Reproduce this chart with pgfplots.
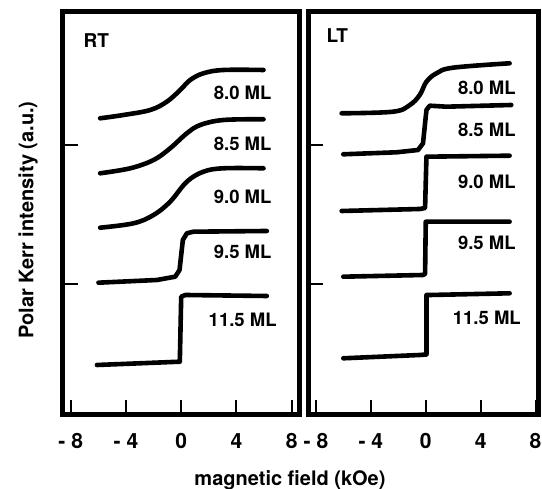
\documentclass[border=0pt]{standalone}
\usepackage{fontspec}
\setmainfont{TeX Gyre Heros}
\usepackage{pgfplots}
\pgfplotsset{compat=1.18}
\tikzset{lab/.style={font=\fontsize{18.5}{20}\selectfont\bfseries}}
\begin{document}
\begin{tikzpicture}
\useasboundingbox (0pt,0pt) rectangle (542pt,489pt);
\pgfplotsset{
  kerr/.style={
    scale only axis, height=403pt,
    ymin=0, ymax=403,
    ytick={131,269.5}, yticklabels={},
    ytick pos=left, xtick pos=bottom,
    tick align=inside, major tick length=15pt,
    tick style={line width=2pt, black},
    axis line style={line width=5pt},
    xtick={-8,-4,0,4,8}, xticklabels={- 8,- 4,0,4,8},
    xticklabel style={font=\fontsize{21}{22}\selectfont\bfseries, anchor=center, yshift=-26pt},
    clip=false,
    every axis plot/.append style={line width=4.6pt, black, no markers, line cap=round, line join=round},
  },
}
% RT panel
\begin{axis}[kerr, at={(62.7pt,74pt)}, anchor=south west, width=236.3pt, xmin=-8.58, xmax=8.53]
\addplot[smooth, tension=0.6] coordinates {(-5.87,296.7) (-4.18,300) (-2.24,305) (-1.04,313.3) (-0.07,325) (0.65,335) (1.61,341.7) (3.06,345) (5.96,345)};
\addplot[smooth, tension=0.6] coordinates {(-5.87,241.7) (-3.69,246.7) (-2.0,255) (-0.80,266.7) (0.41,281.7) (1.38,290) (3.06,295) (5.96,295.7)};
\addplot[smooth, tension=0.6] coordinates {(-5.87,187.3) (-3.45,191.7) (-2.0,200) (-0.80,213.3) (0.41,233.3) (1.61,243.3) (3.06,246.7) (5.96,246.7)};
\addplot[sharp plot] coordinates {(-5.99,132.3) (-1.76,135) (-0.43,138.3) (-0.12,145) (0.12,175) (0.41,181.7) (0.89,183.3) (6.2,184)};
\addplot[sharp plot] coordinates {(-6.1,50) (-3.0,51.7) (-0.1,53.3) (0.0,118.3) (0.3,120) (6.2,119)};
\node[lab] at (axis cs:4.45,321.7) {8.0 ML};
\node[lab] at (axis cs:4.45,270.7) {8.5 ML};
\node[lab] at (axis cs:4.45,218.3) {9.0 ML};
\node[lab] at (axis cs:4.45,163.3) {9.5 ML};
\node[lab] at (axis cs:4.45,95) {11.5 ML};
\node[font=\fontsize{19}{21}\selectfont\bfseries] at (axis cs:-6.15,374) {RT};
\end{axis}
% LT panel
\begin{axis}[kerr, at={(308pt,74pt)}, anchor=south west, width=231pt, xmin=-8.58, xmax=8.25]
\addplot[smooth, tension=0.6] coordinates {(-6.13,301.7) (-2.38,303.3) (-1.16,310) (-0.44,320) (0.05,333.3) (0.78,341.7) (1.99,347.3) (6.11,351.7)};
\addplot[sharp plot] coordinates {(-6.01,260.7) (-2.13,262.7) (-0.56,265) (-0.2,271.7) (0.05,305) (0.29,309.3) (1.5,308.3) (6.23,310)};
\addplot[sharp plot] coordinates {(-6.13,204) (-0.44,206) (-0.05,207) (0.05,258.3) (6.11,259.3)};
\addplot[sharp plot] coordinates {(-6.01,138.3) (-0.2,140) (-0.05,141) (0.0,193.3) (6.11,193.3)};
\addplot[sharp plot] coordinates {(-6.01,56.7) (-0.44,60) (0.05,60.5) (0.05,120) (0.3,120) (6.11,121.7)};
\node[lab] at (axis cs:4.45,326.7) {8.0 ML};
\node[lab] at (axis cs:4.45,285) {8.5 ML};
\node[lab] at (axis cs:4.45,233.3) {9.0 ML};
\node[lab] at (axis cs:4.45,171.7) {9.5 ML};
\node[lab] at (axis cs:4.45,96.7) {11.5 ML};
\node[font=\fontsize{19}{21}\selectfont\bfseries] at (axis cs:-6.44,379) {LT};
\end{axis}
\node[rotate=90, font=\fontsize{20}{24}\selectfont\bfseries] at (28pt,269pt) {Polar Kerr intensity (a.u.)};
\node[anchor=base, font=\fontsize{20}{24}\selectfont\bfseries] at (290pt,3.5pt) {magnetic field (kOe)};
\end{tikzpicture}
\end{document}
